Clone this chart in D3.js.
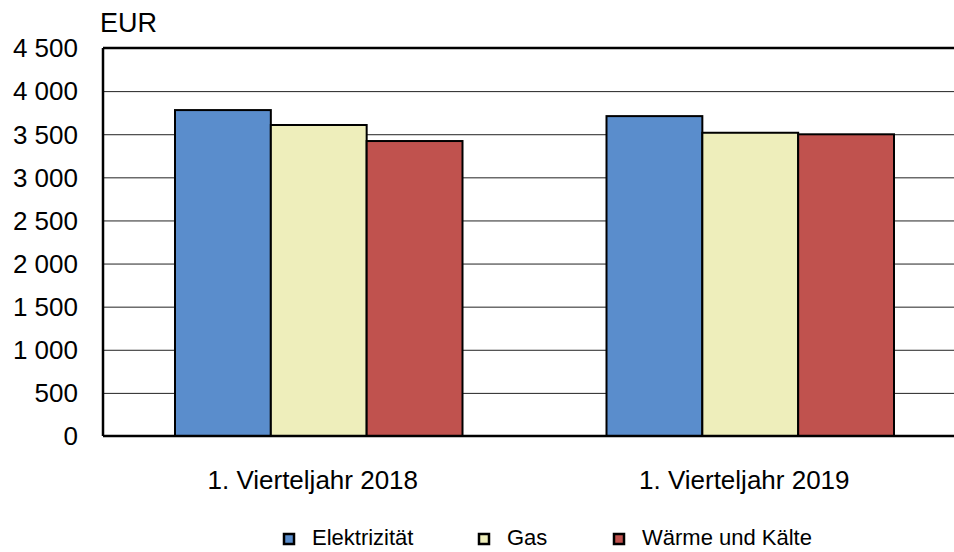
<!DOCTYPE html>
<html>
<head>
<meta charset="utf-8">
<style>
  body { margin: 0; background: #fff; }
  svg { display: block; font-family: "Liberation Sans", Arial, sans-serif; }
</style>
</head>
<body>
<div id="chart"></div>
<script src="https://cdnjs.cloudflare.com/ajax/libs/d3/7.8.5/d3.min.js"></script>
<script>
var categories = ["1. Vierteljahr 2018", "1. Vierteljahr 2019"];
var seriesNames = ["Elektrizität", "Gas", "Wärme und Kälte"];
var elektrizitaet = [3780, 3710];
var gas = [3607, 3517];
var waerme = [3421, 3499];
var yTicks = [0, 500, 1000, 1500, 2000, 2500, 3000, 3500, 4000, 4500];
var colors = ["#5a8dcc", "#eeeebb", "#c0524e"];

(function() {
    var width = 954, height = 552;
    var left = 103, right = 966, top = 48, bottom = 436;

    var svg = d3.select("#chart").append("svg")
        .attr("width", width)
        .attr("height", height);

    var series = [elektrizitaet, gas, waerme];
    var rows = categories.map(function(c, i) {
        return { cat: c, vals: series.map(function(s, j) { return { key: seriesNames[j], v: s[i] }; }) };
    });

    var x0 = d3.scaleBand().domain(categories).range([left, right]).paddingInner(0).paddingOuter(0);
    var x1 = d3.scaleBand().domain(seriesNames).range([72, x0.bandwidth() - 72]);
    var y = d3.scaleLinear().domain([0, 4500]).range([bottom, top]);
    var color = d3.scaleOrdinal().domain(seriesNames).range(colors);

    // gridlines
    svg.append("g").selectAll("line")
        .data(yTicks.slice(1, -1))
        .enter().append("line")
        .attr("x1", left).attr("x2", right)
        .attr("y1", function(d) { return y(d) + 0.5; })
        .attr("y2", function(d) { return y(d) + 0.5; })
        .attr("stroke", "#222").attr("stroke-width", 1);

    // bars
    var g = svg.append("g").selectAll("g")
        .data(rows)
        .enter().append("g")
        .attr("transform", function(d) { return "translate(" + x0(d.cat) + ",0)"; });
    g.selectAll("rect")
        .data(function(d) { return d.vals; })
        .enter().append("rect")
        .attr("x", function(d) { return x1(d.key); })
        .attr("width", x1.bandwidth())
        .attr("y", function(d) { return y(d.v); })
        .attr("height", function(d) { return bottom - y(d.v); })
        .attr("fill", function(d) { return color(d.key); })
        .attr("stroke", "#000").attr("stroke-width", 2);

    // frame
    svg.append("line").attr("x1", left).attr("x2", right).attr("y1", top).attr("y2", top)
        .attr("stroke", "#000").attr("stroke-width", 2.5);
    svg.append("line").attr("x1", left).attr("x2", right).attr("y1", bottom).attr("y2", bottom)
        .attr("stroke", "#000").attr("stroke-width", 2.5);
    svg.append("line").attr("x1", left).attr("x2", left).attr("y1", top).attr("y2", bottom)
        .attr("stroke", "#000").attr("stroke-width", 2.5);

    // y axis labels
    var fmt = function(d) { return d3.format(",")(d).replace(",", " "); };
    svg.append("g").selectAll("text")
        .data(yTicks)
        .enter().append("text")
        .attr("x", 78)
        .attr("y", function(d) { return y(d); })
        .attr("dy", "0.36em")
        .attr("text-anchor", "end")
        .attr("font-size", 26)
        .text(fmt);

    svg.append("text").attr("x", 100).attr("y", 32)
        .attr("font-size", 27).text("EUR");

    // category labels
    svg.append("g").selectAll("text")
        .data(categories)
        .enter().append("text")
        .attr("x", function(d) { return x0(d) + x0.bandwidth() / 2 - 6; })
        .attr("y", 489)
        .attr("text-anchor", "middle")
        .attr("font-size", 26)
        .text(function(d) { return d; });

    // legend
    var legendX = [284, 479, 614];
    var lg = svg.append("g").selectAll("g")
        .data(seriesNames)
        .enter().append("g")
        .attr("transform", function(d, i) { return "translate(" + legendX[i] + ",534)"; });
    lg.append("rect")
        .attr("width", 10).attr("height", 10)
        .attr("fill", function(d) { return color(d); })
        .attr("stroke", "#000").attr("stroke-width", 2.5);
    lg.append("text")
        .attr("x", 28).attr("y", 11)
        .attr("font-size", 22)
        .text(function(d) { return d; });
})();
</script>
</body>
</html>
